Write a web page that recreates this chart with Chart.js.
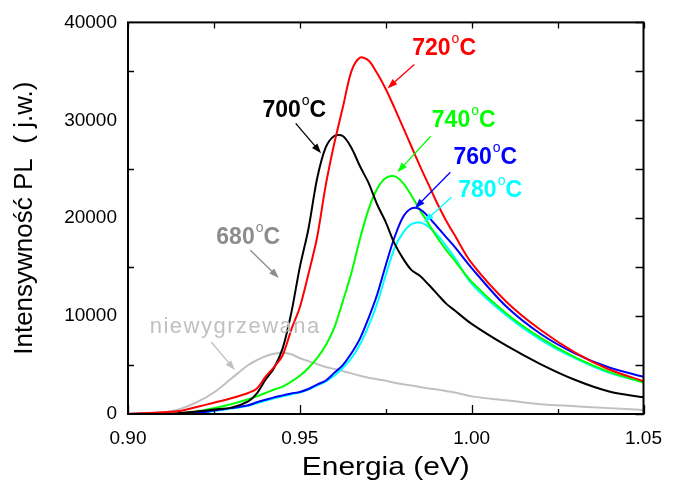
<!DOCTYPE html>
<html>
<head>
<meta charset="utf-8">
<script src="https://cdn.jsdelivr.net/npm/chart.js@4/dist/chart.umd.min.js"></script>
<style>
  html, body { margin: 0; padding: 0; background: #fff; }
  #wrap { width: 675px; height: 483px; }
</style>
</head>
<body>
<div id="wrap"><canvas id="chart" width="675" height="483"></canvas></div>
<script>
// photon energy (eV), shared by all spectra
const energy = [
  0.900, 0.905, 0.910, 0.915, 0.920, 0.925, 0.930, 0.935, 0.9375, 0.940,
  0.9425, 0.945, 0.9475, 0.950, 0.9525, 0.955, 0.9575, 0.960, 0.9625, 0.965,
  0.9675, 0.970, 0.9725, 0.975, 0.9775, 0.980, 0.9825, 0.985, 0.9875, 0.990,
  0.9925, 0.995, 1.000, 1.010, 1.020, 1.030, 1.040, 1.050
];

// PL intensity (j.w.)
const pl720 = [
  0, 80, 180, 300, 720, 1150, 1600, 2150, 2600, 3800,
  4800, 6000, 8600, 10900, 14300, 18000, 23300, 27600, 31300, 35000,
  36400, 36100, 34800, 33200, 31300, 29300, 27300, 25300, 23400, 21500,
  19800, 18300, 15400, 11500, 8600, 6300, 4550, 3350
];
const pl700 = [
  0, 50, 0, 100, 250, 450, 650, 1300, 2100, 3500,
  4700, 6700, 10300, 15000, 18900, 24000, 27200, 28400, 28400, 27200,
  25300, 23600, 21400, 19600, 17450, 15900, 14700, 14100, 13200, 12250,
  11300, 10600, 9200, 7000, 5100, 3500, 2300, 1700
];
const pl740 = [
  0, 0, 0, 50, 250, 600, 1000, 1500, 1800, 2150,
  2500, 2800, 3300, 3900, 4700, 5700, 7000, 8800, 11500, 14400,
  17900, 20900, 23000, 24100, 24300, 23600, 22300, 20800, 19400, 18000,
  16800, 15700, 13500, 10300, 7800, 5800, 4300, 3200
];
const pl760 = [
  0, 0, 0, 0, 100, 350, 600, 900, 1200, 1450,
  1700, 1900, 2100, 2250, 2550, 3000, 3400, 4200, 5000, 6200,
  7700, 9800, 12200, 15200, 18000, 20100, 21000, 20900, 20100, 19100,
  18100, 17100, 14900, 11000, 8200, 6200, 4750, 3800
];
const pl780 = [
  0, 0, 0, 0, 50, 300, 550, 850, 1100, 1350,
  1600, 1800, 2000, 2200, 2500, 2900, 3300, 3900, 4700, 5700,
  7100, 9000, 11300, 14200, 16900, 18500, 19400, 19550, 19100, 18300,
  17200, 16000, 13300, 10100, 7600, 5700, 4200, 3250
];
const plRaw = [
  0, 30, 150, 500, 1200, 2200, 3600, 5000, 5500, 5900,
  6150, 6250, 6100, 5700, 5400, 5100, 4800, 4600, 4400, 4150,
  3900, 3700, 3550, 3400, 3200, 3050, 2900, 2750, 2600, 2500,
  2350, 2200, 1800, 1400, 1000, 800, 600, 400
];

const xTicks = [0.90, 0.95, 1.00, 1.05];
const yTicks = [0, 10000, 20000, 30000, 40000];

// label text, colour, text anchor and arrow (data coordinates)
const notes = [
  { num: "720", color: "#ff0000", at: [0.9827, 36630], from: [0.9833, 35710], to: [0.9755, 33260] },
  { num: "700", color: "#000000", at: [0.9391, 30300], from: [0.9488, 29690], to: [0.9562, 26630] },
  { num: "740", color: "#00ff00", at: [0.9884, 29290], from: [0.9881, 28370], to: [0.9784, 24690] },
  { num: "760", color: "#0000ff", at: [0.9947, 25510], from: [0.9938, 24690], to: [0.9835, 21020] },
  { num: "780", color: "#00ffff", at: [0.9961, 22140], from: [0.9941, 22140], to: [0.9861, 19590] },
  { num: "680", color: "#8c8c8c", at: [0.9257, 17350], from: [0.9356, 16730], to: [0.9439, 13880] }
];
const rawNote = { text: "niewygrzewana", color: "#c0c0c0", at: [0.9063, 8265], from: [0.9242, 7350], to: [0.9311, 4490] };

const FONT = "'Liberation Sans', Arial, sans-serif";

function series(vals) {
  return energy.map((e, i) => ({ x: e, y: vals[i] }));
}

function drawArrow(ctx, x1, y1, x2, y2, color) {
  const ang = Math.atan2(y2 - y1, x2 - x1);
  const hl = 10, hw = 3.5;
  ctx.strokeStyle = color;
  ctx.fillStyle = color;
  ctx.lineWidth = 1.3;
  ctx.beginPath();
  ctx.moveTo(x1, y1);
  ctx.lineTo(x2 - Math.cos(ang) * hl * 0.8, y2 - Math.sin(ang) * hl * 0.8);
  ctx.stroke();
  ctx.beginPath();
  ctx.moveTo(x2, y2);
  ctx.lineTo(x2 - Math.cos(ang) * hl - Math.sin(ang) * hw, y2 - Math.sin(ang) * hl + Math.cos(ang) * hw);
  ctx.lineTo(x2 - Math.cos(ang) * hl + Math.sin(ang) * hw, y2 - Math.sin(ang) * hl - Math.cos(ang) * hw);
  ctx.closePath();
  ctx.fill();
}

const decorPlugin = {
  id: "decor",
  afterDatasetsDraw(chart) {
    const { ctx, chartArea: a, scales: { x, y } } = chart;
    ctx.save();

    // frame
    ctx.strokeStyle = "#000";
    ctx.lineWidth = 2;
    ctx.strokeRect(a.left, a.top, a.right - a.left, a.bottom - a.top);

    // inward ticks
    ctx.lineWidth = 1.3;
    ctx.beginPath();
    for (let k = 0; k <= 6; k++) {
      const px = Math.round(x.getPixelForValue(0.90 + k * 0.025)) + 0.5;
      const major = k % 2 === 0;
      ctx.moveTo(px, a.bottom);
      ctx.lineTo(px, a.bottom - (major ? 9 : 5));
      ctx.moveTo(px, a.top);
      ctx.lineTo(px, a.top + 6);
    }
    for (let k = 0; k <= 8; k++) {
      const py = Math.round(y.getPixelForValue(k * 5000)) + 0.5;
      ctx.moveTo(a.right, py);
      ctx.lineTo(a.right - 8, py);
      if (k % 2 === 1) {
        ctx.moveTo(a.left, py);
        ctx.lineTo(a.left + 6, py);
      }
    }
    ctx.stroke();

    // x axis title, slightly wide like the original
    ctx.save();
    ctx.fillStyle = "#000";
    ctx.font = "26px " + FONT;
    ctx.textAlign = "center";
    ctx.textBaseline = "alphabetic";
    ctx.translate((a.left + a.right) / 2, 475);
    ctx.scale(1.15, 1);
    ctx.fillText("Energia (eV)", 0, 0);
    ctx.restore();

    // temperature labels
    for (const n of notes) {
      const tx = x.getPixelForValue(n.at[0]);
      const ty = y.getPixelForValue(n.at[1]);
      ctx.fillStyle = n.color;
      ctx.textBaseline = "alphabetic";
      ctx.textAlign = "left";
      ctx.font = "bold 23px " + FONT;
      ctx.fillText(n.num, tx, ty);
      let w = ctx.measureText(n.num).width;
      ctx.font = "14px " + FONT;
      ctx.fillText("o", tx + w + 1, ty - 12);
      w += ctx.measureText("o").width + 1;
      ctx.font = "bold 23px " + FONT;
      ctx.fillText("C", tx + w, ty);
      drawArrow(ctx, x.getPixelForValue(n.from[0]), y.getPixelForValue(n.from[1]),
        x.getPixelForValue(n.to[0]), y.getPixelForValue(n.to[1]), n.color);
    }

    // unannealed label
    ctx.fillStyle = rawNote.color;
    ctx.font = "22px " + FONT;
    if ("letterSpacing" in ctx) ctx.letterSpacing = "1.5px";
    ctx.fillText(rawNote.text, x.getPixelForValue(rawNote.at[0]), y.getPixelForValue(rawNote.at[1]));
    if ("letterSpacing" in ctx) ctx.letterSpacing = "0px";
    drawArrow(ctx, x.getPixelForValue(rawNote.from[0]), y.getPixelForValue(rawNote.from[1]),
      x.getPixelForValue(rawNote.to[0]), y.getPixelForValue(rawNote.to[1]), rawNote.color);

    ctx.restore();
  }
};

function lineSet(label, vals, color) {
  return {
    label,
    data: series(vals),
    borderColor: color,
    backgroundColor: color,
    borderWidth: 2,
    pointRadius: 0,
    tension: 0.3,
    fill: false
  };
}

new Chart(document.getElementById("chart"), {
  type: "line",
  data: {
    datasets: [
      lineSet("720", pl720, "#ff0000"),
      lineSet("700", pl700, "#000000"),
      lineSet("760", pl760, "#0000ff"),
      lineSet("740", pl740, "#00ff00"),
      lineSet("780", pl780, "#00ffff"),
      lineSet("niewygrzewana", plRaw, "#c0c0c0")
    ]
  },
  options: {
    responsive: false,
    animation: false,
    events: [],
    layout: { padding: { top: 22, right: 21, left: 0, bottom: 0 } },
    plugins: {
      legend: { display: false },
      tooltip: { enabled: false }
    },
    scales: {
      x: {
        type: "linear",
        min: 0.90,
        max: 1.05,
        afterBuildTicks: s => { s.ticks = xTicks.map(v => ({ value: v })); },
        afterFit: s => { s.height = 69; },
        grid: { display: false, drawTicks: false },
        border: { display: false },
        ticks: {
          color: "#000",
          padding: 13,
          maxRotation: 0,
          font: { family: FONT, size: 19 },
          callback: v => v.toFixed(2)
        },
        title: { display: false }
      },
      y: {
        min: 0,
        max: 40000,
        afterBuildTicks: s => { s.ticks = yTicks.map(v => ({ value: v })); },
        afterFit: s => { s.width = 128; },
        grid: { display: false, drawTicks: false },
        border: { display: false },
        ticks: {
          color: "#000",
          padding: 11,
          font: { family: FONT, size: 19 },
          callback: v => String(v)
        },
        title: {
          display: true,
          text: "Intensywność PL  ( j.w.)",
          color: "#000",
          font: { family: FONT, size: 26 },
          padding: { top: 9, bottom: 0 }
        }
      }
    }
  },
  plugins: [decorPlugin]
});
</script>
</body>
</html>
